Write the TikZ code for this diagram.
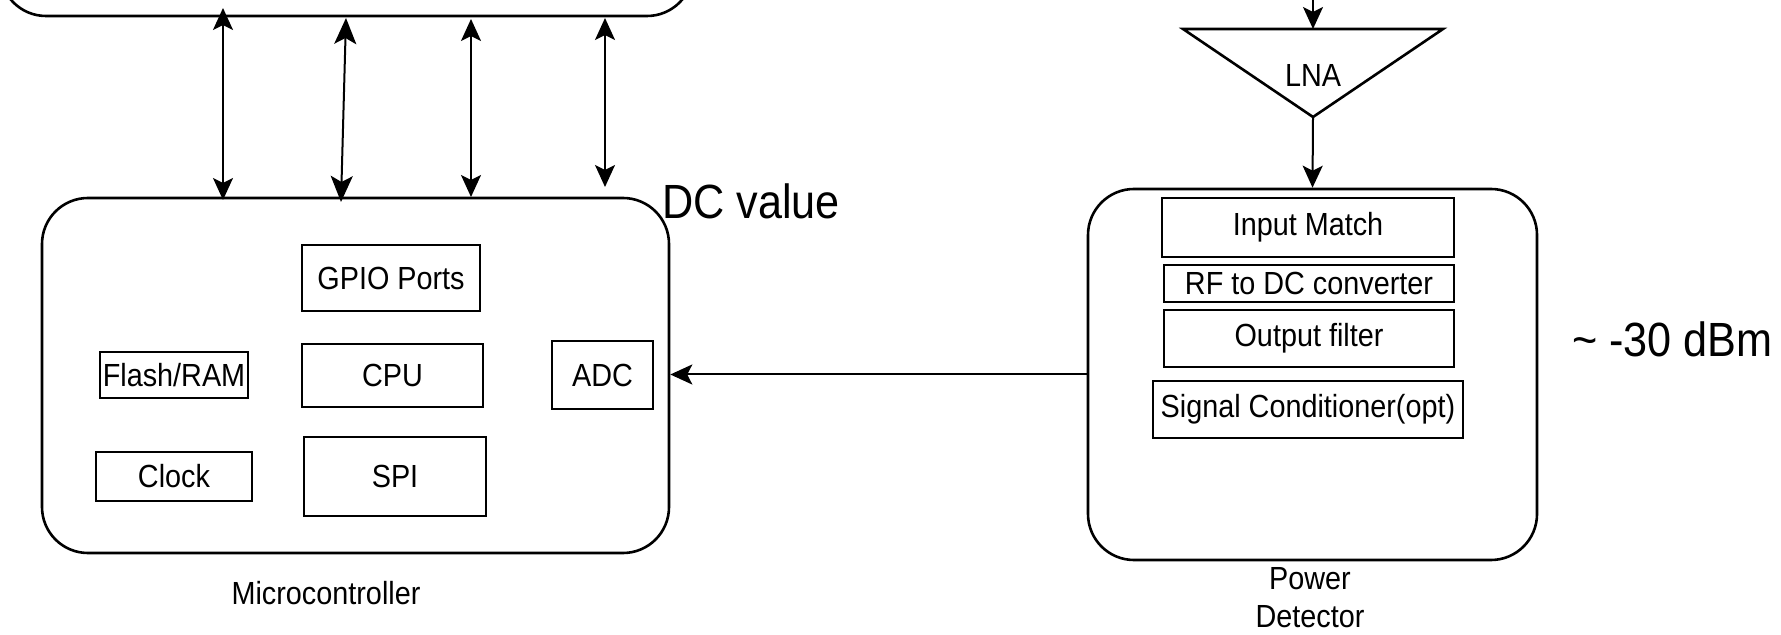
\documentclass[tikz,border=0pt]{standalone}
\usepackage{fontspec}
\setmainfont{Liberation Sans}[FakeStretch=0.9]
\usetikzlibrary{arrows.meta}
\begin{document}
\begin{tikzpicture}[x=0.5pt,y=-0.5pt,
  small/.style={font=\fontsize{16}{19}\selectfont},
  big/.style={font=\fontsize{24}{28}\selectfont},
  blk/.style={draw, line width=1.3pt, rectangle, inner sep=0pt, small},
  rblk/.style={draw, line width=1.3pt, rectangle, rounded corners=23pt, inner sep=0pt},
  tipA/.tip={Stealth[length=11pt,width=10pt,inset=2.5pt]},
  tipB/.tip={Stealth[length=13pt,width=11pt,inset=3pt]},
  dbl/.style={line width=1pt, arrows={tipA-tipA}},
  dblB/.style={line width=1pt, arrows={tipB-tipB}},
  sgl/.style={line width=1pt, arrows={-tipA}}]
\clip (0,0) rectangle (1781,635);
% bus box (partially visible)
\node[rblk, minimum width=346.5pt, minimum height=108.5pt] (bus) at (346.5,-92.5) {};
% microcontroller
\node[rblk, minimum width=313.5pt, minimum height=177.5pt] (mcu) at (355.5,375.5) {};
\node[blk, minimum width=89pt, minimum height=33pt] (gpio) at (391,278) {GPIO Ports};
\node[blk, minimum width=74pt, minimum height=23pt] (mem) at (174,375) {Flash/RAM};
\node[blk, minimum width=90.5pt, minimum height=31.5pt] (cpu) at (392.5,375.5) {CPU};
\node[blk, minimum width=50.5pt, minimum height=34pt] (adc) at (602.5,375) {ADC};
\node[blk, minimum width=78pt, minimum height=24.5pt] (clk) at (174,476.5) {Clock};
\node[blk, minimum width=91pt, minimum height=39.5pt] (spi) at (395,476.5) {SPI};
\node[small] (mculbl) at (326,593) {Microcontroller};
\node[big, anchor=base west] (dcv) at (655,219) {DC value};
% power detector
\node[rblk, minimum width=224.5pt, minimum height=185.5pt] (det) at (1312.5,374.5) {};
\node[blk, minimum width=146pt, minimum height=29.5pt] (im) at (1308,227.5) {Input Match};
\node[blk, minimum width=145pt, minimum height=18.5pt] (rf) at (1309,283.5) {RF to DC converter};
\node[blk, minimum width=145pt, minimum height=28.5pt] (of) at (1309,338.5) {Output filter};
\node[blk, minimum width=155pt, minimum height=28.5pt] (sc) at (1308,409.5) {Signal Conditioner(opt)};
\node[small, align=center, inner sep=0pt] (detlbl) at (1310,598) {Power\\Detector};
\node[big, anchor=base west] (dbm) at (1565,357) {\textasciitilde\ -30 dBm};
% LNA
\coordinate (lnaL) at (1183,29);
\coordinate (lnaR) at (1443,29);
\coordinate (lnaB) at (1313,117);
\coordinate (lnaT) at (1313,29);
\draw[line width=1.3pt, line join=miter] (lnaL) -- (lnaR) -- (lnaB) -- cycle;
\node[small] (lna) at (1313,75) {LNA};
\coordinate (rfin) at (1313,-5);
\draw[sgl] (rfin) -- (lnaT);
\draw[sgl] (lnaB) -- (det.north);
% DC value connector
\draw[sgl] (det.west) -- (det.west -| mcu.east);
% bus connectors
\coordinate (a1t) at (223,8);   \coordinate (a1b) at (223,200);
\coordinate (a2t) at (346,18);  \coordinate (a2b) at (341,202);
\coordinate (a3t) at (471,19);  \coordinate (a3b) at (471,197);
\coordinate (a4t) at (605,18);  \coordinate (a4b) at (605,187);
\draw[dbl] (a1t) -- (a1b);
\draw[dblB] (a2t) -- (a2b);
\draw[dbl] (a3t) -- (a3b);
\draw[dbl] (a4t) -- (a4b);
\end{tikzpicture}
\end{document}
